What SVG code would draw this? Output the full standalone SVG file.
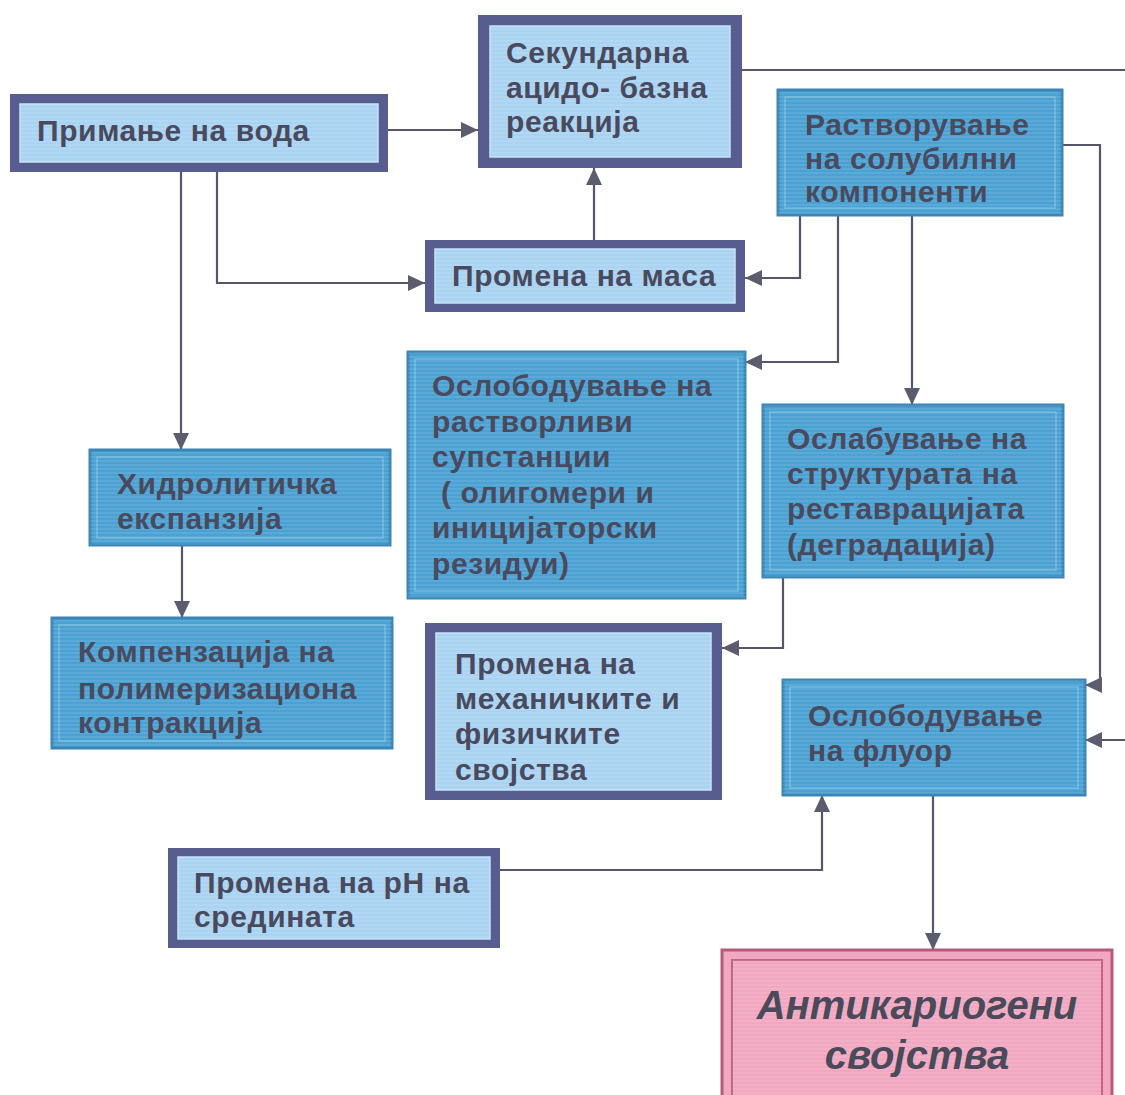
<svg xmlns="http://www.w3.org/2000/svg" width="1125" height="1095" viewBox="0 0 1125 1095">
<defs>
<pattern id="stripes" width="8" height="4" patternUnits="userSpaceOnUse">
<rect width="8" height="4" fill="none"/>
<line x1="0" y1="1" x2="8" y2="1" stroke="#ffffff" stroke-opacity="0.18" stroke-width="1"/>
</pattern>
<marker id="arr" markerUnits="userSpaceOnUse" markerWidth="18" markerHeight="16" refX="17" refY="8" orient="auto">
<path d="M0,0 L17,8 L0,16 z" fill="#5b5d6e"/>
</marker>
<style>
.dark-o{fill:#575d8f;}
.dark-i{fill:#a9d3f2;stroke:#c6e2f7;stroke-width:1.5;}
.teal-o{fill:#4aa1d3;stroke:#3b86b6;stroke-width:3;}
.teal-i{fill:none;stroke:#72b9e2;stroke-width:1.5;}
.pink-o{fill:#f2a7c0;stroke:#b65a7c;stroke-width:3;}
.pink-i{fill:none;stroke:#c2627f;stroke-width:2;}
.tex{fill:url(#stripes);}
.t{font-family:"Liberation Sans",Arial,sans-serif;font-weight:bold;font-size:30px;letter-spacing:0.6px;fill:#4a4a5e;}
.tp{font-family:"Liberation Sans",Arial,sans-serif;font-weight:bold;font-style:italic;font-size:40px;fill:#4a4a5a;}
.c{fill:none;stroke:#55566a;stroke-width:2.2;}
</style>
</defs>
<rect width="1125" height="1095" fill="#ffffff"/>

<g id="connectors">
<path class="c" d="M388,130 H478" marker-end="url(#arr)"/>
<path class="c" d="M217,172 V283 H425" marker-end="url(#arr)"/>
<path class="c" d="M181,172 V450" marker-end="url(#arr)"/>
<path class="c" d="M594,240 V168" marker-end="url(#arr)"/>
<path class="c" d="M741,70 H1125"/>
<path class="c" d="M1125,740 H1085" marker-end="url(#arr)"/>
<path class="c" d="M800,215 V278 H745" marker-end="url(#arr)"/>
<path class="c" d="M838,215 V362 H745" marker-end="url(#arr)"/>
<path class="c" d="M912,215 V405" marker-end="url(#arr)"/>
<path class="c" d="M1062,145 H1100 V685 H1085" marker-end="url(#arr)"/>
<path class="c" d="M783,577 V648 H722" marker-end="url(#arr)"/>
<path class="c" d="M500,870 H822 V795" marker-end="url(#arr)"/>
<path class="c" d="M933,795 V950" marker-end="url(#arr)"/>
<path class="c" d="M182,545 V618" marker-end="url(#arr)"/>
</g>

<g id="n1">
<rect class="dark-o" x="10" y="94" width="378" height="78"/>
<rect class="dark-i" x="20" y="104" width="358" height="58"/>
<rect class="tex" x="20" y="104" width="358" height="58"/>
<text class="t" x="37" y="141">Примање на вода</text>
</g>

<g id="n2">
<rect class="dark-o" x="478" y="15" width="264" height="153"/>
<rect class="dark-i" x="490" y="26" width="240" height="131"/>
<rect class="tex" x="490" y="26" width="240" height="131"/>
<text class="t" x="506" y="63">Секундарна</text>
<text class="t" x="506" y="98">ацидо- базна</text>
<text class="t" x="506" y="132">реакција</text>
</g>

<g id="n3">
<rect class="teal-o" x="778" y="90" width="284" height="125"/>
<rect class="teal-i" x="785" y="97" width="270" height="111"/>
<rect class="tex" x="778" y="90" width="284" height="125"/>
<text class="t" x="805" y="135">Растворување</text>
<text class="t" x="805" y="169">на солубилни</text>
<text class="t" x="805" y="202">компоненти</text>
</g>

<g id="n4">
<rect class="dark-o" x="425" y="240" width="320" height="72"/>
<rect class="dark-i" x="435" y="249" width="300" height="54"/>
<rect class="tex" x="435" y="249" width="300" height="54"/>
<text class="t" x="452" y="286">Промена на маса</text>
</g>

<g id="n5">
<rect class="teal-o" x="90" y="450" width="300" height="95"/>
<rect class="teal-i" x="97" y="457" width="286" height="81"/>
<rect class="tex" x="90" y="450" width="300" height="95"/>
<text class="t" x="117" y="494">Хидролитичка</text>
<text class="t" x="117" y="529">експанзија</text>
</g>

<g id="n6">
<rect class="teal-o" x="52" y="618" width="340" height="130"/>
<rect class="teal-i" x="59" y="625" width="326" height="116"/>
<rect class="tex" x="52" y="618" width="340" height="130"/>
<text class="t" x="78" y="662">Компензација на</text>
<text class="t" x="78" y="699">полимеризациона</text>
<text class="t" x="78" y="733">контракција</text>
</g>

<g id="n7">
<rect class="teal-o" x="408" y="352" width="337" height="246"/>
<rect class="teal-i" x="415" y="359" width="323" height="232"/>
<rect class="tex" x="408" y="352" width="337" height="246"/>
<text class="t" x="432" y="396">Ослободување на</text>
<text class="t" x="432" y="432">растворливи</text>
<text class="t" x="432" y="467">супстанции</text>
<text class="t" x="432" y="503" xml:space="preserve"> ( олигомери и</text>
<text class="t" x="432" y="538">иницијаторски</text>
<text class="t" x="432" y="574">резидуи)</text>
</g>

<g id="n8">
<rect class="teal-o" x="763" y="405" width="300" height="172"/>
<rect class="teal-i" x="770" y="412" width="286" height="158"/>
<rect class="tex" x="763" y="405" width="300" height="172"/>
<text class="t" x="787" y="449">Ослабување на</text>
<text class="t" x="787" y="484">структурата на</text>
<text class="t" x="787" y="519">реставрацијата</text>
<text class="t" x="787" y="555">(деградација)</text>
</g>

<g id="n9">
<rect class="dark-o" x="425" y="623" width="297" height="177"/>
<rect class="dark-i" x="436" y="633" width="275" height="157"/>
<rect class="tex" x="436" y="633" width="275" height="157"/>
<text class="t" x="455" y="674">Промена на</text>
<text class="t" x="455" y="709">механичките и</text>
<text class="t" x="455" y="744">физичките</text>
<text class="t" x="455" y="780">својства</text>
</g>

<g id="n10">
<rect class="teal-o" x="783" y="680" width="302" height="115"/>
<rect class="teal-i" x="790" y="687" width="288" height="101"/>
<rect class="tex" x="783" y="680" width="302" height="115"/>
<text class="t" x="808" y="726">Ослободување</text>
<text class="t" x="808" y="761">на флуор</text>
</g>

<g id="n11">
<rect class="dark-o" x="168" y="848" width="332" height="100"/>
<rect class="dark-i" x="178" y="857" width="312" height="82"/>
<rect class="tex" x="178" y="857" width="312" height="82"/>
<text class="t" x="194" y="893">Промена на pH на</text>
<text class="t" x="194" y="927">средината</text>
</g>

<g id="n12">
<rect class="pink-o" x="722" y="950" width="390" height="150"/>
<rect class="pink-i" x="732" y="960" width="370" height="140"/>
<rect class="tex" x="732" y="960" width="370" height="140"/>
<text class="tp" x="917" y="1019" text-anchor="middle">Антикариогени</text>
<text class="tp" x="917" y="1069" text-anchor="middle">својства</text>
</g>
</svg>
